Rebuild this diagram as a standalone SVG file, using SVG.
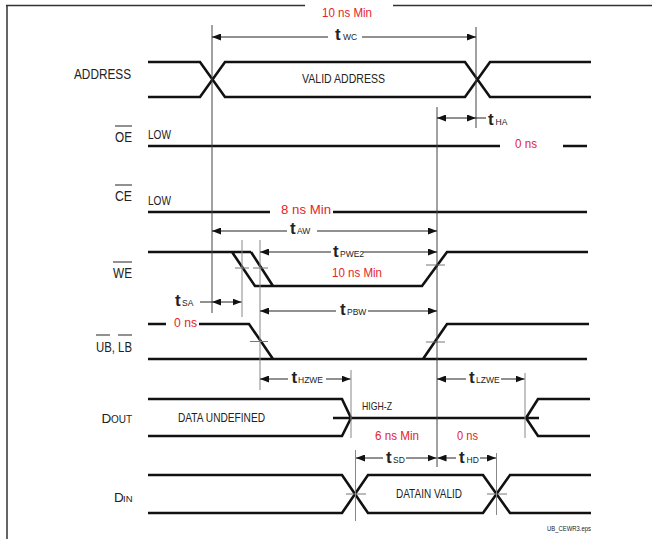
<svg xmlns="http://www.w3.org/2000/svg" width="652" height="539" viewBox="0 0 652 539">
<defs>
<style>
.sig{stroke:#111;stroke-width:2.6;fill:none;stroke-linejoin:miter}
.ar{stroke:#222;stroke-width:1;fill:none}
.vd{stroke:#444;stroke-width:1;fill:none}
.vg{stroke:#888;stroke-width:1;fill:none}
.tk{stroke:#777;stroke-width:1;fill:none}
.fr{stroke:#333;stroke-width:1.5;fill:none}
text{font-family:"Liberation Sans",Arial,sans-serif;fill:#222}
.lb{font-size:14px}
.red{font-size:13.5px;fill:#e3262b}
.tt{font-size:17px;font-weight:bold}
.ts{font-size:8.5px}
.sm{font-size:12px}
</style>
<marker id="ah" viewBox="0 0 9 7" refX="9" refY="3.5" markerWidth="9" markerHeight="7" markerUnits="userSpaceOnUse" orient="auto-start-reverse"><path d="M0,0 L9,3.5 L0,7 z" fill="#111"/></marker>
</defs>
<rect width="652" height="539" fill="#fff"/>
<g id="frame">
<path class="fr" d="M6,5.5 H305 M393,5.5 H652 M7,5 V539"/>
<text class="red" x="322" y="17" textLength="50" lengthAdjust="spacingAndGlyphs">10 ns Min</text>
</g>
<g id="address">
<text class="lb" x="74" y="79" textLength="57" lengthAdjust="spacingAndGlyphs">ADDRESS</text>
<path class="sig" d="M148,62 H200 L225,97 H465 L490,62 H591 M148,97 H200 L225,62 H465 L490,97 H591"/>
<text x="302" y="83" font-size="12.5" textLength="83" lengthAdjust="spacingAndGlyphs">VALID ADDRESS</text>
</g>
<g id="oe">
<text class="lb" x="115" y="142" textLength="17" lengthAdjust="spacingAndGlyphs">OE</text>
<path class="ar" d="M115,126 H132"/>
<text class="sm" x="148" y="139" textLength="23" lengthAdjust="spacingAndGlyphs">LOW</text>
<path class="sig" d="M148,146 H500 M563,146 H587"/>
<text class="red" x="515" y="148" textLength="22" lengthAdjust="spacingAndGlyphs">0 ns</text>
</g>
<g id="ce">
<text class="lb" x="115" y="201" textLength="17" lengthAdjust="spacingAndGlyphs">CE</text>
<path class="ar" d="M115,185 H132"/>
<text class="sm" x="148" y="205" textLength="23" lengthAdjust="spacingAndGlyphs">LOW</text>
<path class="sig" d="M148,212 H270 M333,212 H587"/>
<text class="red" x="281" y="214" textLength="50" lengthAdjust="spacingAndGlyphs">8 ns Min</text>
</g>
<g id="we">
<text class="lb" x="113" y="278" textLength="19" lengthAdjust="spacingAndGlyphs">WE</text>
<path class="ar" d="M113,262 H132"/>
<path class="sig" d="M148,252 H251 M232,252 L255,286 H422 L447,252 H588 M251,252 L273,286"/>
<path class="tk" d="M235,268 H249 M253,268 H268 M426,265 H445"/>
<text class="red" x="332" y="277" textLength="50" lengthAdjust="spacingAndGlyphs">10 ns Min</text>
</g>
<g id="ublb">
<text class="lb" x="96" y="351.5" textLength="36" lengthAdjust="spacingAndGlyphs">UB, LB</text>
<path class="ar" d="M96,335 H110 M118,335 H132"/>
<path class="sig" d="M148,324 H166 M199,324 H249 L273,359 M148,359 H587 M423,359 L447,324 H589"/>
<path class="tk" d="M250,341.5 H268 M426,342 H445"/>
<text class="red" x="174" y="327" textLength="23" lengthAdjust="spacingAndGlyphs">0 ns</text>
</g>
<g id="dout">
<text y="423"><tspan x="101.5" font-size="13.5">D</tspan><tspan x="111" font-size="10">OUT</tspan></text>
<path class="sig" d="M148,399 H342 L351,418 L342,436 H148 M333,418 H539 M590,399 H538 L526,418 L538,436 H590"/>
<text x="178" y="422" font-size="13" textLength="87" lengthAdjust="spacingAndGlyphs">DATA UNDEFINED</text>
<text x="362" y="410" font-size="11" textLength="30" lengthAdjust="spacingAndGlyphs">HIGH-Z</text>
<text class="red" x="375" y="440" textLength="44" lengthAdjust="spacingAndGlyphs">6 ns Min</text>
<text class="red" x="457" y="440" textLength="21" lengthAdjust="spacingAndGlyphs">0 ns</text>
</g>
<g id="din">
<text y="502"><tspan x="114" font-size="13.5">D</tspan><tspan x="123" font-size="9.5">IN</tspan></text>
<path class="sig" d="M148,475 H342 L368,513 H483 L510,475 H591 M148,513 H342 L368,475 H483 L510,513 H591"/>
<path class="tk" d="M346,494 H366 M487,494 H507"/>
<text x="396" y="498" font-size="12.5" textLength="66" lengthAdjust="spacingAndGlyphs">DATAIN VALID</text>
</g>
<g id="connectors">
<path class="vd" d="M212,25 V313 M476,27 V128 M437,107 V467"/>
<path class="vg" d="M242,240 V317 M260,240 V390 M351,370 V438 M525,373 V438 M355.5,450 V521 M496.5,453 V515"/>
<line class="ar" x1="212" y1="37" x2="328" y2="37" marker-start="url(#ah)"/>
<line class="ar" x1="362" y1="37" x2="476" y2="37" marker-end="url(#ah)"/>
<line class="ar" x1="437" y1="118" x2="476" y2="118" marker-start="url(#ah)" marker-end="url(#ah)"/>
<line class="ar" x1="476" y1="118" x2="486" y2="118"/>
<line class="ar" x1="212" y1="231" x2="287" y2="231" marker-start="url(#ah)"/>
<line class="ar" x1="317" y1="231" x2="437" y2="231" marker-end="url(#ah)"/>
<line class="ar" x1="260" y1="252" x2="331" y2="252" marker-start="url(#ah)"/>
<line class="ar" x1="363" y1="252" x2="437" y2="252" marker-end="url(#ah)"/>
<line class="ar" x1="200" y1="302" x2="212" y2="302"/>
<line class="ar" x1="212" y1="302" x2="241.5" y2="302" marker-start="url(#ah)" marker-end="url(#ah)"/>
<line class="ar" x1="260" y1="311" x2="336" y2="311" marker-start="url(#ah)"/>
<line class="ar" x1="368" y1="311" x2="437" y2="311" marker-end="url(#ah)"/>
<line class="ar" x1="260" y1="379" x2="288" y2="379" marker-start="url(#ah)"/>
<line class="ar" x1="326" y1="379" x2="350.5" y2="379" marker-end="url(#ah)"/>
<line class="ar" x1="437" y1="379" x2="466" y2="379" marker-start="url(#ah)"/>
<line class="ar" x1="501" y1="379" x2="524.5" y2="379" marker-end="url(#ah)"/>
<line class="ar" x1="356" y1="458" x2="383" y2="458" marker-start="url(#ah)"/>
<line class="ar" x1="406" y1="458" x2="436.5" y2="458" marker-end="url(#ah)"/>
<line class="ar" x1="437.5" y1="458" x2="456" y2="458" marker-start="url(#ah)"/>
<line class="ar" x1="480" y1="458" x2="496" y2="458" marker-end="url(#ah)"/>
<text y="40"><tspan class="tt" x="335">t</tspan><tspan class="ts" x="343">WC</tspan></text>
<text y="125"><tspan class="tt" x="488">t</tspan><tspan class="ts" x="495.5">HA</tspan></text>
<text y="234"><tspan class="tt" x="290">t</tspan><tspan class="ts" x="297">AW</tspan></text>
<text y="257"><tspan class="tt" x="333">t</tspan><tspan class="ts" x="340">PWE2</tspan></text>
<text y="306"><tspan class="tt" x="175">t</tspan><tspan class="ts" x="182">SA</tspan></text>
<text y="315"><tspan class="tt" x="340">t</tspan><tspan class="ts" x="347">PBW</tspan></text>
<text y="383"><tspan class="tt" x="291.5">t</tspan><tspan class="ts" x="298">HZWE</tspan></text>
<text y="383"><tspan class="tt" x="469">t</tspan><tspan class="ts" x="476">LZWE</tspan></text>
<text y="463"><tspan class="tt" x="386">t</tspan><tspan class="ts" x="393">SD</tspan></text>
<text y="463"><tspan class="tt" x="459">t</tspan><tspan class="ts" x="466.5">HD</tspan></text>
</g>
<text x="547" y="531" font-size="7" textLength="44" lengthAdjust="spacingAndGlyphs">UB_CEWR3.eps</text>
</svg>
